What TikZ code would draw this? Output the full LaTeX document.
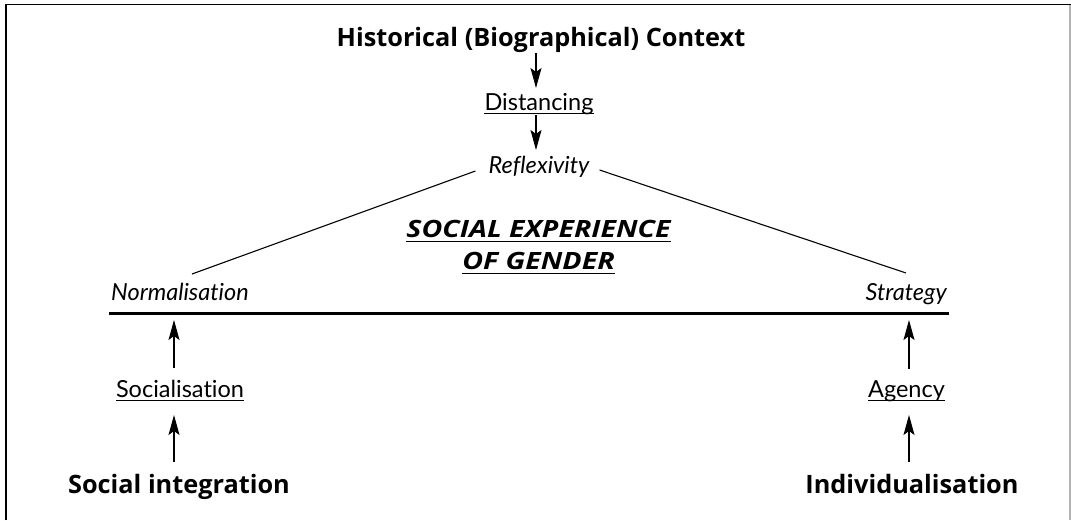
\documentclass[tikz,border=0pt]{standalone}
\usepackage{fontspec}
\setmainfont{Lato}[Ligatures=NoCommon]
\newfontfamily\boldfam{Open Sans}[Ligatures=NoCommon,UprightFont=* Bold,ItalicFont=* Bold Italic]
\newfontfamily\sxfam{Open Sans}[Ligatures=NoCommon,UprightFont=* Bold Italic,FakeStretch=1.2]
\usetikzlibrary{arrows.meta,calc}
\begin{document}
\begin{tikzpicture}[x=1pt,y=-1pt,
  lbl/.style={inner sep=0pt,anchor=base,font=\fontsize{23.5}{27}\selectfont},
  bigl/.style={inner sep=0pt,anchor=base,font=\fontsize{25.3}{29}\boldfam},
  itl/.style={inner sep=0pt,anchor=base,font=\fontsize{23.5}{27}\selectfont\itshape},
  sx/.style={inner sep=0pt,anchor=base,font=\fontsize{23.8}{28}\sxfam},
  arr/.style={line width=1.1pt,-{Stealth[length=20pt,width=11pt,inset=4pt]}},
  thin/.style={line width=1.1pt},
  uline/.style={line width=1pt}]
\useasboundingbox (0,0) rectangle (1071,520);
\draw[line width=1.6pt] (6,520) -- (6,4.5) -- (1071,4.5);
\draw[line width=1.2pt,gray!60] (1070,4.5) -- (1070,520);
% nodes
\node[bigl] (title) at (541,46) {Historical (Biographical) Context};
\node[lbl] (dist) at (539,110) {Distancing};
\node[itl] (refl) at (539,173) {Reflexivity};
\node[sx] (sx1) at (538.5,237) {SOCIAL EXPERIENCE};
\node[sx] (sx2) at (538.5,269) {OF GENDER};
\node[itl,anchor=base west] (norm) at (111,300) {Normalisation};
\node[itl,anchor=base east] (strat) at (947,300) {Strategy};
\node[lbl] (soc) at (180,397) {Socialisation};
\node[lbl] (agen) at (906.5,397) {Agency};
\node[bigl] (sint) at (179,493) {Social integration};
\node[bigl] (indiv) at (912,493) {Individualisation};
% underlines
\foreach \n in {dist,soc,agen}{
  \draw[uline] ($(\n.base west)+(0,3.5)$) -- ($(\n.base east)+(0,3.5)$);}
\foreach \n in {sx1,sx2}{
  \draw[line width=1.4pt] ($(\n.base west)+(0,4.5)$) -- ($(\n.base east)+(0,4.5)$);}
% connectors
\draw[arr] (title.south -| 536,0) ++(0,1) -- (536,88);
\draw[arr] (dist.south -| 536,0) ++(0,1) -- (536,150);
\draw[thin] ($(refl.base west)+(-13,-2)$) -- ($(norm.base west)+(81,-26)$);
\draw[thin] ($(refl.base east)+(10,-3)$) -- ($(strat.base east)+(-41,-27)$);
\draw[line width=2.4pt] ($(norm.base west)+(-2,13.5)$) -- ($(strat.base east)+(2,13.5)$);
\draw[arr] (soc.north -| 174,0) ++(0,-11) -- (174,320);
\draw[arr] (sint.north -| 174,0) ++(0,-12) -- (174,415);
\draw[arr] (agen.north -| 909,0) ++(0,-11) -- (909,320);
\draw[arr] (indiv.north -| 909,0) ++(0,-12) -- (909,415);
\end{tikzpicture}
\end{document}
